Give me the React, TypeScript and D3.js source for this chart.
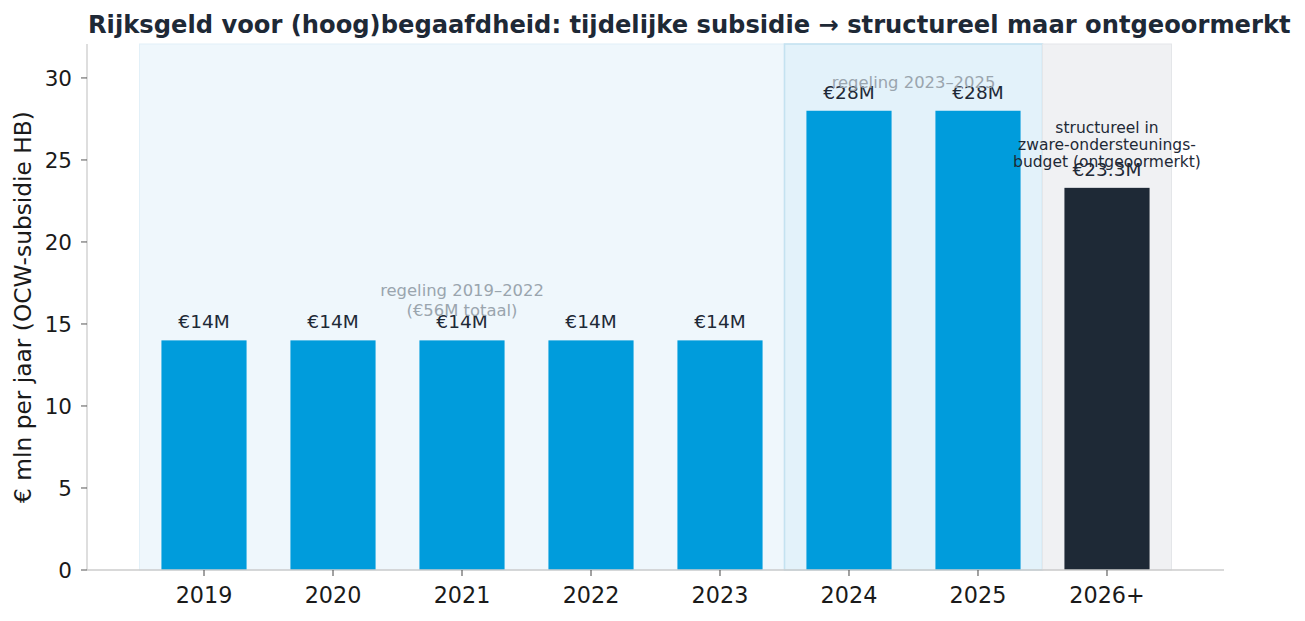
import React from 'react';
import * as d3 from 'd3';

const years = ['2019', '2020', '2021', '2022', '2023', '2024', '2025', '2026+'];
const amounts = [14, 14, 14, 14, 14, 28, 28, 23.3];
const valueLabels = ['€14M', '€14M', '€14M', '€14M', '€14M', '€28M', '€28M', '€23.3M'];
const barKinds = ['subsidie', 'subsidie', 'subsidie', 'subsidie', 'subsidie', 'subsidie', 'subsidie', 'structureel'];
const yTicks = [0, 5, 10, 15, 20, 25, 30];

// periodes als achtergrondvlakken (in categorie-index)
const spans = [
  { from: -0.5, to: 4.5, fill: '#eff7fc', stroke: '#e2f0f8' },
  { from: 4.5, to: 6.5, fill: '#e3f2fa', stroke: '#c4e2f0' },
  { from: 6.5, to: 7.5, fill: '#f0f1f3', stroke: '#e4e6e9' },
];

const W = 1305;
const H = 621;
const margin = { top: 44, right: 81, bottom: 51, left: 87 };
const FONT = '"DejaVu Sans", sans-serif';
const DARK = '#1e2936';
const BLUE = '#009cdc';
const GREY = '#9aa5ae';

export default function App() {
  const innerW = W - margin.left - margin.right;
  const innerH = H - margin.top - margin.bottom;

  const x = d3.scaleLinear().domain([-0.907, 7.907]).range([0, innerW]);
  const y = d3.scaleLinear().domain([0, 32.07]).range([innerH, 0]);
  const barW = x(0.66) - x(0);

  return (
    <div style={{ position: 'absolute', left: 0, top: 0 }}>
      <svg width={W} height={H} style={{ display: 'block', background: '#fff' }} fontFamily={FONT}>
        <text x={88} y={33} fontSize={24.2} fontWeight="bold" fill={DARK}>
          Rijksgeld voor (hoog)begaafdheid: tijdelijke subsidie → structureel maar ontgeoormerkt
        </text>
        <g transform={`translate(${margin.left},${margin.top})`}>
          {spans.map((s, i) => (
            <rect key={i} x={x(s.from)} y={0} width={x(s.to) - x(s.from)} height={innerH}
              fill={s.fill} stroke={s.stroke} strokeWidth={i === 1 ? 1.6 : 1} />
          ))}

          {amounts.map((v, i) => (
            <g key={years[i]}>
              <rect x={x(i) - barW / 2} y={y(v)} width={barW} height={innerH - y(v)}
                fill={barKinds[i] === 'structureel' ? DARK : BLUE} />
              <text x={x(i)} y={y(v) - 12} textAnchor="middle" fontSize={18.5} fill={DARK}>
                {valueLabels[i]}
              </text>
            </g>
          ))}

          <text x={x(2)} textAnchor="middle" fontSize={16.4} fill={GREY}>
            <tspan x={x(2)} y={y(17) + 5}>regeling 2019–2022</tspan>
            <tspan x={x(2)} y={y(17) + 25}>(€56M totaal)</tspan>
          </text>
          <text x={x(5.5)} y={y(29.9) + 8} textAnchor="middle" fontSize={16.4} fill={GREY}>
            regeling 2023–2025
          </text>
          <text x={x(7)} textAnchor="middle" fontSize={15.5} fill={DARK}>
            <tspan x={x(7)} y={89}>structureel in</tspan>
            <tspan x={x(7)} y={106}>zware-ondersteunings-</tspan>
            <tspan x={x(7)} y={123}>budget (ontgeoormerkt)</tspan>
          </text>

          {/* assen */}
          <line x1={0} x2={0} y1={0} y2={innerH} stroke="#cccccc" strokeWidth={1.3} />
          <line x1={0} x2={innerW} y1={innerH} y2={innerH} stroke="#cccccc" strokeWidth={1.3} />
          {yTicks.map(t => (
            <g key={t} transform={`translate(0,${y(t)})`}>
              <line x1={-6} x2={0} stroke="#555" strokeWidth={1} />
              <text x={-15} dy="0.36em" textAnchor="end" fontSize={21.5} fill="#1a1a1a">{t}</text>
            </g>
          ))}
          {years.map((yr, i) => (
            <g key={yr} transform={`translate(${x(i)},${innerH})`}>
              <line y1={0} y2={6} stroke="#444" strokeWidth={1} />
              <text y={33} textAnchor="middle" fontSize={22.3} fill="#1a1a1a">{yr}</text>
            </g>
          ))}
        </g>
        <text transform={`translate(31,${margin.top + innerH / 2}) rotate(-90)`} textAnchor="middle"
          fontSize={23.3} fill="#1a1a1a">
          € mln per jaar (OCW-subsidie HB)
        </text>
      </svg>
    </div>
  );
}
